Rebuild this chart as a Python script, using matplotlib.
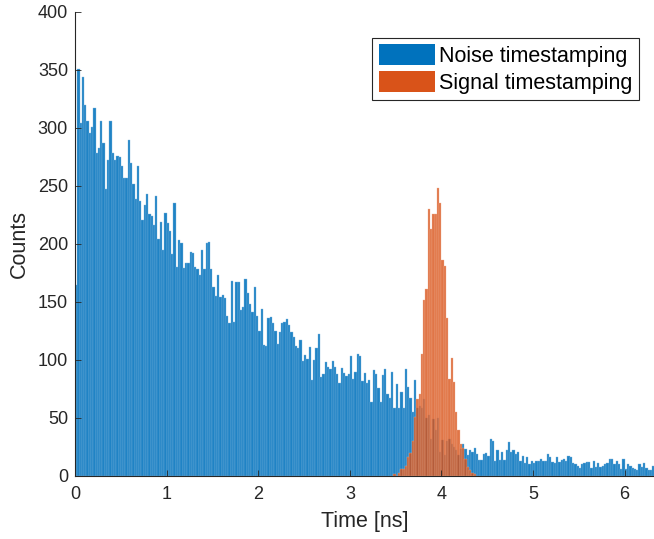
import numpy as np
import matplotlib
matplotlib.use("Agg")
import matplotlib.pyplot as plt

plt.rcParams['font.family'] = ['Liberation Sans', 'DejaVu Sans']

# bin width in ns, both histograms share the same edges
bin_w = 0.025

# noise timestamping counts per bin
noise_counts = [
    165, 351, 304, 344, 320, 306, 296, 301, 317, 278, 283, 306, 287, 247, 272, 306,
    278, 272, 276, 275, 267, 257, 257, 290, 270, 252, 239, 267, 237, 221, 234, 243,
    226, 224, 216, 241, 204, 219, 195, 227, 218, 211, 191, 235, 180, 203, 201, 179,
    184, 184, 193, 192, 180, 178, 173, 195, 178, 201, 202, 178, 163, 155, 173, 154,
    156, 153, 138, 132, 168, 133, 167, 167, 143, 146, 170, 158, 148, 141, 163, 138,
    125, 144, 113, 112, 136, 137, 132, 125, 114, 124, 132, 133, 135, 130, 124, 120,
    112, 110, 117, 99, 104, 101, 111, 83, 100, 110, 122, 85, 88, 98, 94, 92,
    99, 94, 88, 80, 93, 89, 86, 88, 103, 84, 90, 105, 103, 82, 89, 80,
    83, 64, 91, 88, 76, 64, 87, 92, 71, 67, 90, 59, 79, 59, 72, 59,
    92, 77, 67, 55, 83, 59, 60, 59, 66, 50, 53, 32, 49, 40, 50, 21,
    31, 18, 30, 32, 28, 25, 22, 18, 23,
    28, 23, 18, 22, 21, 24, 19, 14, 14, 19, 20, 17, 32, 30, 13, 22,
    14, 21, 14, 22, 29, 21, 22, 19, 21, 13, 17, 11, 16, 10, 13, 11,
    13, 13, 15, 13, 13, 19, 16,
    12, 11, 16, 12, 14, 15, 13, 17, 16, 11, 10, 9, 7, 10, 11, 12,
    12, 7, 13, 8, 11, 8, 9, 10, 11, 15, 15, 10, 13, 10, 6, 15,
    6, 10, 9, 7, 6, 5, 10, 8, 11, 7, 5, 5, 9,
]

# signal timestamping counts, first bin index where it starts
signal_start = 139
signal_counts = [
    2, 0, 3, 6, 6, 9, 16, 20, 30, 51, 66, 71, 105, 152, 161, 230,
    213, 226, 226, 248, 235, 186, 181, 136, 84, 102, 81, 55, 40, 28,
    24, 15, 8, 5, 3, 2,
]

noise_x = np.arange(len(noise_counts)) * bin_w
signal_x = (signal_start + np.arange(len(signal_counts))) * bin_w

fig = plt.figure(figsize=(6.54, 5.39), dpi=100)
ax = fig.add_axes([0.1147, 0.1169, 0.8853, 0.861])

ax.bar(noise_x, noise_counts, width=bin_w, align='edge', color='#0072BD',
       alpha=0.88, edgecolor='#7fb4de', linewidth=0.3, label='Noise timestamping')
ax.bar(signal_x, signal_counts, width=bin_w, align='edge', color='#D95319',
       alpha=0.8, edgecolor='#f0b090', linewidth=0.3, label='Signal timestamping')

ax.set_xlim(0, 6.32)
ax.set_ylim(0, 400)
ax.set_xticks(range(7))
ax.set_yticks(range(0, 401, 50))
ax.tick_params(direction='in', labelsize=13, length=4, width=0.6, colors='#262626')
ax.tick_params(axis='x', pad=7)
ax.tick_params(axis='y', pad=5)
for side in ['top', 'right']:
    ax.spines[side].set_visible(False)
for side in ['left', 'bottom']:
    ax.spines[side].set_color('#262626')
    ax.spines[side].set_linewidth(0.8)

ax.set_xlabel('Time [ns]', fontsize=15.5, color='#262626', labelpad=6)
ax.set_ylabel('Counts', fontsize=15.5, color='#262626', labelpad=6)

leg = ax.legend(loc='upper right', bbox_to_anchor=(0.974, 0.944), borderaxespad=0,
                fontsize=15.5, handlelength=2.6, handleheight=1.1, handletextpad=0.2,
                labelspacing=0.2, borderpad=0.3, fancybox=False, framealpha=1)
leg.get_frame().set_edgecolor('#262626')
leg.get_frame().set_linewidth(0.8)
for h in leg.legend_handles:
    h.set_alpha(1)
    h.set_edgecolor('none')

fig.savefig('out.png', dpi=100)
